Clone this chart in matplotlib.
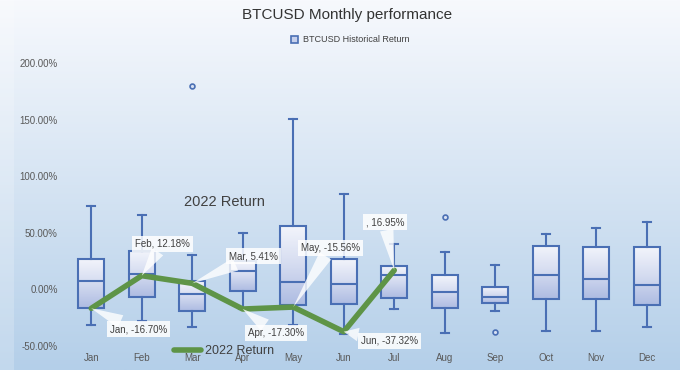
import numpy as np
import matplotlib
matplotlib.use("Agg")
import matplotlib.pyplot as plt
from matplotlib.colors import LinearSegmentedColormap
from matplotlib.patches import Patch, Rectangle
from matplotlib.lines import Line2D

plt.rcParams['font.family'] = ['Liberation Sans', 'DejaVu Sans']

# data (percent)
months = ["Jan", "Feb", "Mar", "Apr", "May", "Jun",
          "Jul", "Aug", "Sep", "Oct", "Nov", "Dec"]
whis_lo = [-31.4, -28.0, -32.9, -17.5, -31.4, -39.0, -17.2, -38.8, -19.3, -37.0, -36.7, -33.2]
q1 = [-16.1, -6.3, -19.0, -1.3, -13.7, -12.8, -7.2, -16.1, -12.2, -8.4, -8.4, -13.7]
median = [7.8, 13.7, -4.0, 16.6, 6.9, 4.9, 12.8, -2.5, -6.3, 12.8, 9.3, 4.0]
q3 = [26.7, 34.0, 7.5, 25.0, 56.1, 26.7, 21.1, 12.5, 2.5, 38.5, 37.9, 37.3]
whis_hi = [73.8, 65.9, 30.5, 50.0, 150.5, 84.4, 40.2, 33.2, 22.0, 49.0, 54.7, 59.4]
outliers = [[], [], [180.0], [], [], [], [], [64.4], [-37.3], [], [], []]

ret_months = ["Jan", "Feb", "Mar", "Apr", "May", "Jun", "Jul"]
ret_2022 = [-16.70, 12.18, 5.41, -17.30, -15.56, -37.32, 16.95]
ret_labels = ["Jan, -16.70%", "Feb, 12.18%", "Mar, 5.41%", "Apr, -17.30%",
              "May, -15.56%", "Jun, -37.32%", ", 16.95%"]
label_offsets = [(47, -21), (21, 32), (61, 27), (33, -24), (37, 59), (46, -9), (-9, 48)]

edge = "#4a6fb4"
green = "#5e9447"

fig = plt.figure(figsize=(6.8, 3.7), dpi=100)

# background gradient
bg = fig.add_axes([0, 0, 1, 1], zorder=-10)
bg_cmap = LinearSegmentedColormap.from_list("bg", ["#f7f9fd", "#b4cfe9"])
bg.imshow(np.linspace(0, 1, 256).reshape(-1, 1), cmap=bg_cmap, aspect="auto",
          extent=[0, 1, 0, 1], origin="upper")
bg.add_patch(Rectangle((0, 0), 14 / 680, 1, color="white", alpha=0.2, lw=0))
bg.set_xlim(0, 1)
bg.set_ylim(0, 1)
bg.axis("off")

ax = fig.add_axes([66 / 680, 0.0495, 606 / 680, 0.795])
ax.patch.set_alpha(0)

x = np.arange(len(months))
stats = []
for i, m in enumerate(months):
    stats.append(dict(label=m, med=median[i], q1=q1[i], q3=q3[i],
                      whislo=whis_lo[i], whishi=whis_hi[i], fliers=outliers[i]))

width = 0.51
bp = ax.bxp(stats, positions=x, widths=width, patch_artist=True,
            boxprops=dict(facecolor="none", edgecolor=edge, linewidth=1.5),
            medianprops=dict(color=edge, linewidth=1.5),
            whiskerprops=dict(color=edge, linewidth=1.5),
            capprops=dict(color=edge, linewidth=1.5),
            capwidths=0.16,
            flierprops=dict(marker="o", markersize=3.5, markerfacecolor="#d6dff2",
                            markeredgecolor=edge, markeredgewidth=1.2))

box_cmap = LinearSegmentedColormap.from_list("box", ["#f2f4fb", "#d4dbf0", "#aebce2"])
for i, patch in enumerate(bp["boxes"]):
    im = ax.imshow(np.linspace(0, 1, 64).reshape(-1, 1), cmap=box_cmap, aspect="auto",
                   extent=[x[i] - width / 2, x[i] + width / 2, q1[i], q3[i]],
                   origin="upper", zorder=1.5)
    im.set_clip_path(patch)

# 2022 line
rx = [months.index(m) for m in ret_months]
ax.plot(rx, ret_2022, color=green, linewidth=4, solid_capstyle="round",
        solid_joinstyle="round", zorder=4)

for xi, yi, lab, off in zip(rx, ret_2022, ret_labels, label_offsets):
    ax.annotate(lab, xy=(xi, yi), xytext=off, textcoords="offset pixels",
                ha="center", va="center", fontsize=7, color="#404040", zorder=5,
                bbox=dict(boxstyle="square,pad=0.3", fc="white", ec="none", alpha=0.85),
                arrowprops=dict(arrowstyle="wedge,tail_width=1.4,shrink_factor=0.5",
                                fc="white", ec="none", alpha=0.8, shrinkA=0, shrinkB=0))

ax.set_xlim(-0.5, 11.5)
ax.set_ylim(-55, 205)
ax.set_xticks(x)
ax.set_xticklabels(months)
ax.set_yticks([-50, 0, 50, 100, 150, 200])
ax.set_yticklabels(["-50.00%", "0.00%", "50.00%", "100.00%", "150.00%", "200.00%"])
ax.tick_params(axis="both", length=0, labelsize=7, labelcolor="#595959")
ax.tick_params(axis="y", pad=6)
ax.tick_params(axis="x", pad=1)
for s in ax.spines.values():
    s.set_visible(False)

ax.text(2.63, 77, "2022 Return", fontsize=10.5, color="#404040", ha="center", va="center")

fig.text(347 / 680, 1 - 15 / 370, "BTCUSD Monthly performance", fontsize=11,
         color="#333333", ha="center", va="center")

fig.legend(handles=[Patch(facecolor="#c6d0ec", edgecolor=edge, linewidth=1.2)],
           labels=["BTCUSD Historical Return"], loc="center",
           bbox_to_anchor=(350 / 680, 1 - 40 / 370), frameon=False, fontsize=6.5,
           handlelength=0.8, handleheight=0.8, handletextpad=0.5, labelcolor="#404040")

fig.legend(handles=[Line2D([0], [0], color=green, linewidth=4, solid_capstyle="round")],
           labels=["2022 Return"], loc="center",
           bbox_to_anchor=(224 / 680, 1 - 351 / 370), frameon=False, fontsize=9,
           handlelength=2.2, handletextpad=0.3, labelcolor="#404040")

fig.savefig("out.png", dpi=100)
